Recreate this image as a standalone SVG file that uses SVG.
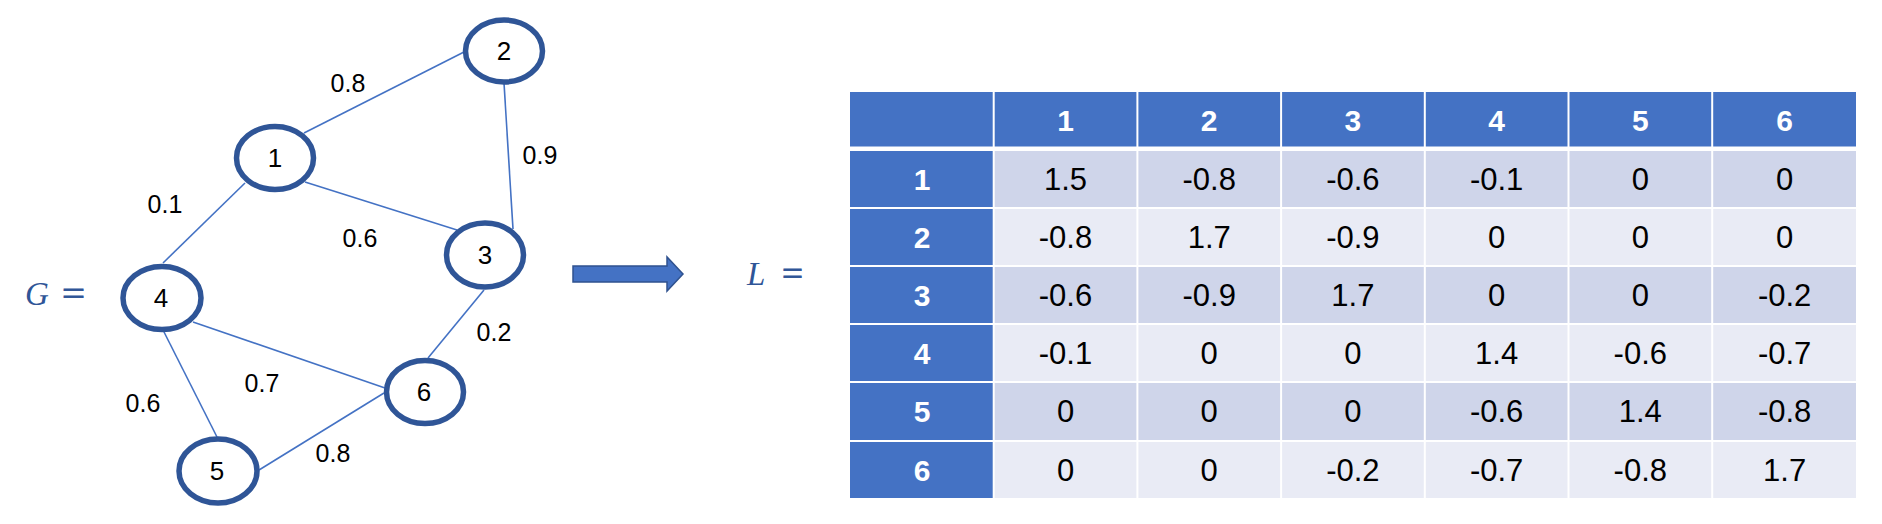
<svg xmlns="http://www.w3.org/2000/svg" width="1882" height="524" viewBox="0 0 1882 524">
<style>
.node ellipse{fill:#fff;stroke:#2F5597;stroke-width:5.5}
.nl{font-family:"Liberation Sans",Arial,sans-serif;font-size:26px;fill:#000;text-anchor:middle}
.el{font-family:"Liberation Sans",Arial,sans-serif;font-size:25px;fill:#000;text-anchor:middle}
.edges line{stroke:#4472C4;stroke-width:1.6}
.math{font-family:"Liberation Serif","Times New Roman",serif;font-size:33px;fill:#2F5597}
.eq{stroke:#2F5597;stroke-width:0.8}
.hd{fill:#4472C4}
.b1{fill:#CFD5EA}
.b2{fill:#E9EBF5}
.th{font-family:"Liberation Sans",Arial,sans-serif;font-size:30px;font-weight:bold;fill:#fff;text-anchor:middle}
.td{font-family:"Liberation Sans",Arial,sans-serif;font-size:31px;fill:#000;text-anchor:middle}
</style>
<rect width="1882" height="524" fill="#fff"/>
<g id="connectors" class="edges">
<line x1="304" y1="133" x2="464" y2="52"/>
<line x1="504" y1="83" x2="513" y2="229"/>
<line x1="305" y1="182" x2="457" y2="230"/>
<line x1="245" y1="183" x2="163" y2="263"/>
<line x1="484" y1="290" x2="428" y2="358"/>
<line x1="193" y1="322" x2="385" y2="388"/>
<line x1="163" y1="330" x2="217" y2="437"/>
<line x1="259" y1="470" x2="384" y2="393"/>
</g>
<g id="edge-labels">
<text class="el" x="348" y="92">0.8</text>
<text class="el" x="540" y="164">0.9</text>
<text class="el" x="165" y="213">0.1</text>
<text class="el" x="360" y="247">0.6</text>
<text class="el" x="494" y="341">0.2</text>
<text class="el" x="262" y="392">0.7</text>
<text class="el" x="143" y="412">0.6</text>
<text class="el" x="333" y="462">0.8</text>
</g>
<g id="node1" class="node"><ellipse cx="275" cy="158" rx="38.5" ry="31.5"/><text class="nl" x="275" y="167">1</text></g>
<g id="node2" class="node"><ellipse cx="504" cy="51" rx="38.5" ry="31"/><text class="nl" x="504" y="60">2</text></g>
<g id="node3" class="node"><ellipse cx="485" cy="255" rx="38.5" ry="32"/><text class="nl" x="485" y="264">3</text></g>
<g id="node4" class="node"><ellipse cx="162" cy="298" rx="39" ry="31.5"/><text class="nl" x="161" y="307">4</text></g>
<g id="node5" class="node"><ellipse cx="218" cy="471" rx="39" ry="32"/><text class="nl" x="217" y="480">5</text></g>
<g id="node6" class="node"><ellipse cx="425" cy="392" rx="38.5" ry="31.5"/><text class="nl" x="424" y="401">6</text></g>
<g id="G-label">
<text class="math" x="25" y="305" font-style="italic">G</text>
<text class="math eq" x="62" y="305" textLength="23" lengthAdjust="spacingAndGlyphs">=</text>
</g>
<g id="arrow">
<polygon points="573,266 667,266 667,257 683,274 667,291 667,282 573,282" fill="#4472C4" stroke="#2F528F" stroke-width="1.5"/>
</g>
<g id="L-label">
<text class="math" x="747" y="285" font-style="italic">L</text>
<text class="math eq" x="782" y="285" textLength="21" lengthAdjust="spacingAndGlyphs">=</text>
</g>
<g id="table">
<g id="header">
<rect class="hd" x="850" y="92" width="142.7" height="54.5"/>
<rect class="hd" x="994.7" y="92" width="141.7" height="54.5"/>
<rect class="hd" x="1138.4" y="92" width="141.7" height="54.5"/>
<rect class="hd" x="1282.1" y="92" width="141.7" height="54.5"/>
<rect class="hd" x="1425.8" y="92" width="141.7" height="54.5"/>
<rect class="hd" x="1569.5" y="92" width="141.7" height="54.5"/>
<rect class="hd" x="1713.2" y="92" width="142.8" height="54.5"/>
<text class="th" x="1065.5" y="131">1</text>
<text class="th" x="1209.2" y="131">2</text>
<text class="th" x="1352.9" y="131">3</text>
<text class="th" x="1496.6" y="131">4</text>
<text class="th" x="1640.3" y="131">5</text>
<text class="th" x="1784.6" y="131">6</text>
</g>
<g id="row1">
<rect class="hd" x="850" y="151" width="142.7" height="56"/>
<rect class="b1" x="994.7" y="151" width="141.7" height="56"/>
<rect class="b1" x="1138.4" y="151" width="141.7" height="56"/>
<rect class="b1" x="1282.1" y="151" width="141.7" height="56"/>
<rect class="b1" x="1425.8" y="151" width="141.7" height="56"/>
<rect class="b1" x="1569.5" y="151" width="141.7" height="56"/>
<rect class="b1" x="1713.2" y="151" width="142.8" height="56"/>
<text class="th" x="922" y="190">1</text>
<text class="td" x="1065.5" y="190">1.5</text>
<text class="td" x="1209.2" y="190">-0.8</text>
<text class="td" x="1352.9" y="190">-0.6</text>
<text class="td" x="1496.6" y="190">-0.1</text>
<text class="td" x="1640.3" y="190">0</text>
<text class="td" x="1784.6" y="190">0</text>
</g>
<g id="row2">
<rect class="hd" x="850" y="209" width="142.7" height="56"/>
<rect class="b2" x="994.7" y="209" width="141.7" height="56"/>
<rect class="b2" x="1138.4" y="209" width="141.7" height="56"/>
<rect class="b2" x="1282.1" y="209" width="141.7" height="56"/>
<rect class="b2" x="1425.8" y="209" width="141.7" height="56"/>
<rect class="b2" x="1569.5" y="209" width="141.7" height="56"/>
<rect class="b2" x="1713.2" y="209" width="142.8" height="56"/>
<text class="th" x="922" y="248">2</text>
<text class="td" x="1065.5" y="248">-0.8</text>
<text class="td" x="1209.2" y="248">1.7</text>
<text class="td" x="1352.9" y="248">-0.9</text>
<text class="td" x="1496.6" y="248">0</text>
<text class="td" x="1640.3" y="248">0</text>
<text class="td" x="1784.6" y="248">0</text>
</g>
<g id="row3">
<rect class="hd" x="850" y="267" width="142.7" height="56"/>
<rect class="b1" x="994.7" y="267" width="141.7" height="56"/>
<rect class="b1" x="1138.4" y="267" width="141.7" height="56"/>
<rect class="b1" x="1282.1" y="267" width="141.7" height="56"/>
<rect class="b1" x="1425.8" y="267" width="141.7" height="56"/>
<rect class="b1" x="1569.5" y="267" width="141.7" height="56"/>
<rect class="b1" x="1713.2" y="267" width="142.8" height="56"/>
<text class="th" x="922" y="306">3</text>
<text class="td" x="1065.5" y="306">-0.6</text>
<text class="td" x="1209.2" y="306">-0.9</text>
<text class="td" x="1352.9" y="306">1.7</text>
<text class="td" x="1496.6" y="306">0</text>
<text class="td" x="1640.3" y="306">0</text>
<text class="td" x="1784.6" y="306">-0.2</text>
</g>
<g id="row4">
<rect class="hd" x="850" y="325" width="142.7" height="56"/>
<rect class="b2" x="994.7" y="325" width="141.7" height="56"/>
<rect class="b2" x="1138.4" y="325" width="141.7" height="56"/>
<rect class="b2" x="1282.1" y="325" width="141.7" height="56"/>
<rect class="b2" x="1425.8" y="325" width="141.7" height="56"/>
<rect class="b2" x="1569.5" y="325" width="141.7" height="56"/>
<rect class="b2" x="1713.2" y="325" width="142.8" height="56"/>
<text class="th" x="922" y="364">4</text>
<text class="td" x="1065.5" y="364">-0.1</text>
<text class="td" x="1209.2" y="364">0</text>
<text class="td" x="1352.9" y="364">0</text>
<text class="td" x="1496.6" y="364">1.4</text>
<text class="td" x="1640.3" y="364">-0.6</text>
<text class="td" x="1784.6" y="364">-0.7</text>
</g>
<g id="row5">
<rect class="hd" x="850" y="383" width="142.7" height="57"/>
<rect class="b1" x="994.7" y="383" width="141.7" height="57"/>
<rect class="b1" x="1138.4" y="383" width="141.7" height="57"/>
<rect class="b1" x="1282.1" y="383" width="141.7" height="57"/>
<rect class="b1" x="1425.8" y="383" width="141.7" height="57"/>
<rect class="b1" x="1569.5" y="383" width="141.7" height="57"/>
<rect class="b1" x="1713.2" y="383" width="142.8" height="57"/>
<text class="th" x="922" y="422">5</text>
<text class="td" x="1065.5" y="422">0</text>
<text class="td" x="1209.2" y="422">0</text>
<text class="td" x="1352.9" y="422">0</text>
<text class="td" x="1496.6" y="422">-0.6</text>
<text class="td" x="1640.3" y="422">1.4</text>
<text class="td" x="1784.6" y="422">-0.8</text>
</g>
<g id="row6">
<rect class="hd" x="850" y="442" width="142.7" height="56"/>
<rect class="b2" x="994.7" y="442" width="141.7" height="56"/>
<rect class="b2" x="1138.4" y="442" width="141.7" height="56"/>
<rect class="b2" x="1282.1" y="442" width="141.7" height="56"/>
<rect class="b2" x="1425.8" y="442" width="141.7" height="56"/>
<rect class="b2" x="1569.5" y="442" width="141.7" height="56"/>
<rect class="b2" x="1713.2" y="442" width="142.8" height="56"/>
<text class="th" x="922" y="481">6</text>
<text class="td" x="1065.5" y="481">0</text>
<text class="td" x="1209.2" y="481">0</text>
<text class="td" x="1352.9" y="481">-0.2</text>
<text class="td" x="1496.6" y="481">-0.7</text>
<text class="td" x="1640.3" y="481">-0.8</text>
<text class="td" x="1784.6" y="481">1.7</text>
</g>
</g>
</svg>
